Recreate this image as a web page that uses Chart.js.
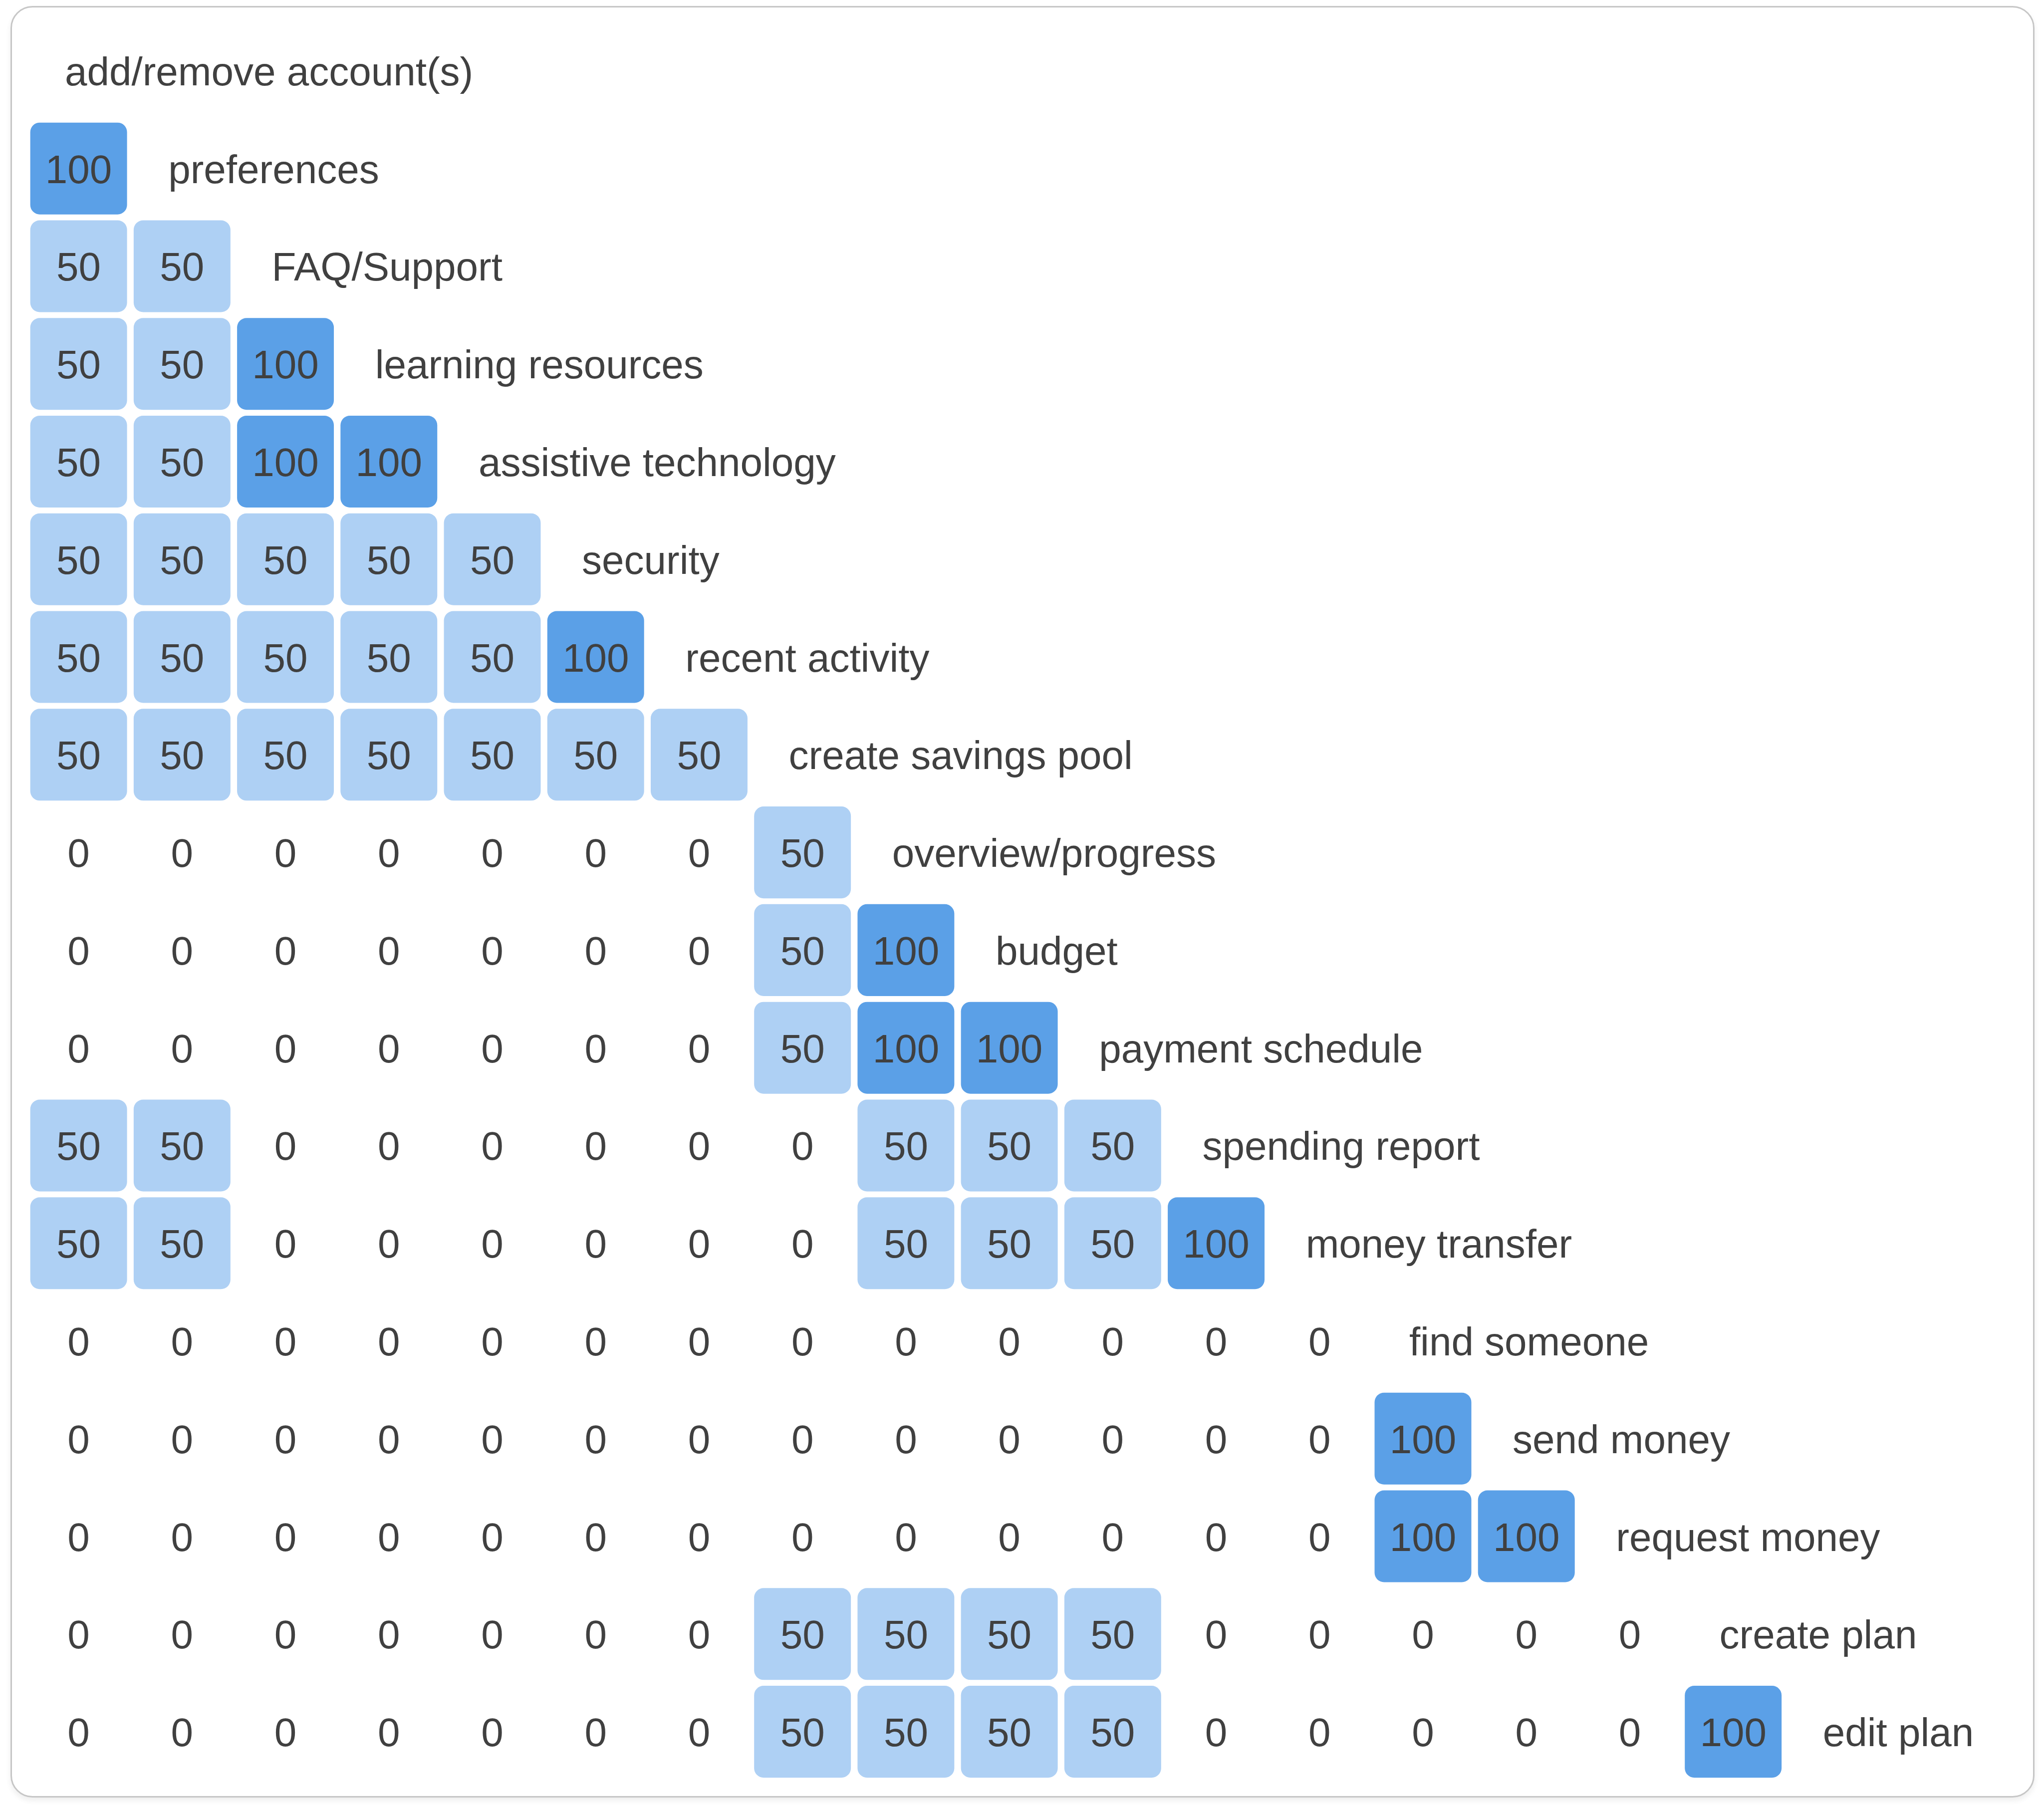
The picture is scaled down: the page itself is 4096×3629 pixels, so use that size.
<!DOCTYPE html>
<html>
<head>
<meta charset="utf-8">
<script src="https://cdn.jsdelivr.net/npm/chart.js@4.4.1/dist/chart.umd.min.js"></script>
<style>
  html, body { margin: 0; padding: 0; background: #ffffff; }
  #wrap { position: relative; width: 4096px; height: 3629px; }
  #frame {
    position: absolute; left: 21px; top: 12px; width: 4056px; height: 3590px;
    box-sizing: border-box; border: 3px solid #c6c6c6; border-radius: 44px;
    box-shadow: 0 6px 12px rgba(0,0,0,0.07); background: #ffffff;
  }
  canvas { position: absolute; left: 0; top: 0; }
</style>
</head>
<body>
<div id="wrap">
  <div id="frame"></div>
  <canvas id="c" width="4096" height="3629"></canvas>
</div>
<script>
// Row labels (row 0 has no cells)
const rowLabels = [
  'add/remove account(s)', 'preferences', 'FAQ/Support', 'learning resources',
  'assistive technology', 'security', 'recent activity', 'create savings pool',
  'overview/progress', 'budget', 'payment schedule', 'spending report',
  'money transfer', 'find someone', 'send money', 'request money',
  'create plan', 'edit plan'
];
// Column categories (indices)
const columnLabels = ['0','1','2','3','4','5','6','7','8','9','10','11','12','13','14','15','16','17'];
// Cell values, row by row (row r has r cells)
const cellValues = [
  [],
  [100],
  [50, 50],
  [50, 50, 100],
  [50, 50, 100, 100],
  [50, 50, 50, 50, 50],
  [50, 50, 50, 50, 50, 100],
  [50, 50, 50, 50, 50, 50, 50],
  [0, 0, 0, 0, 0, 0, 0, 50],
  [0, 0, 0, 0, 0, 0, 0, 50, 100],
  [0, 0, 0, 0, 0, 0, 0, 50, 100, 100],
  [50, 50, 0, 0, 0, 0, 0, 0, 50, 50, 50],
  [50, 50, 0, 0, 0, 0, 0, 0, 50, 50, 50, 100],
  [0, 0, 0, 0, 0, 0, 0, 0, 0, 0, 0, 0, 0],
  [0, 0, 0, 0, 0, 0, 0, 0, 0, 0, 0, 0, 0, 100],
  [0, 0, 0, 0, 0, 0, 0, 0, 0, 0, 0, 0, 0, 100, 100],
  [0, 0, 0, 0, 0, 0, 0, 50, 50, 50, 50, 0, 0, 0, 0, 0],
  [0, 0, 0, 0, 0, 0, 0, 50, 50, 50, 50, 0, 0, 0, 0, 0, 100]
];

const COLOR_HIGH = '#5ba0e7';
const COLOR_MID = '#aed0f4';
const TEXT_COLOR = '#404040';
const FONT = '80px "Liberation Sans", Arial, Helvetica, sans-serif';

function colorFor(v) {
  if (v >= 100) return COLOR_HIGH;
  if (v >= 50) return COLOR_MID;
  return 'rgba(0,0,0,0)';
}

const datasets = [];
cellValues.forEach((row, r) => {
  if (!row.length) return;
  const data = columnLabels.map((_, c) => c < row.length ? [r - 0.47, r + 0.47] : null);
  datasets.push({
    label: rowLabels[r],
    rowIndex: r,
    values: row,
    data: data,
    backgroundColor: (ctx) => {
      const v = row[ctx.dataIndex];
      return v === undefined ? 'rgba(0,0,0,0)' : colorFor(v);
    },
    borderWidth: 0,
    borderRadius: 19,
    borderSkipped: false,
    grouped: false,
    categoryPercentage: 1,
    barPercentage: 0.936
  });
});

const textPlugin = {
  id: 'matrixText',
  afterDatasetsDraw(chart) {
    const ctx = chart.ctx;
    ctx.save();
    ctx.font = FONT;
    ctx.fillStyle = TEXT_COLOR;
    ctx.textBaseline = 'alphabetic';
    // values inside cells
    ctx.textAlign = 'center';
    chart.data.datasets.forEach((ds, di) => {
      const meta = chart.getDatasetMeta(di);
      meta.data.forEach((el, i) => {
        const v = ds.values[i];
        if (v === undefined) return;
        const p = el.getCenterPoint();
        ctx.fillText(String(v), p.x, p.y + 29);
      });
    });
    // row labels on the diagonal
    const xs = chart.scales.x, ys = chart.scales.y;
    const band = (xs.getPixelForValue(1) - xs.getPixelForValue(0));
    ctx.textAlign = 'left';
    rowLabels.forEach((lab, r) => {
      const x = xs.getPixelForValue(r) - band / 2 + 76;
      const y = ys.getPixelForValue(r) + 29;
      ctx.fillText(lab, x, y);
    });
    ctx.restore();
  }
};

new Chart(document.getElementById('c'), {
  type: 'bar',
  data: { labels: columnLabels, datasets: datasets },
  options: {
    responsive: false,
    animation: false,
    devicePixelRatio: 1,
    indexAxis: 'x',
    layout: { padding: { left: 54, right: 312, top: 44, bottom: 61 } },
    scales: {
      x: { type: 'category', display: false, offset: true, grid: { display: false } },
      y: { type: 'linear', display: false, min: -0.5, max: 17.5, reverse: true, grid: { display: false } }
    },
    plugins: { legend: { display: false }, tooltip: { enabled: false } }
  },
  plugins: [textPlugin]
});
</script>
</body>
</html>
